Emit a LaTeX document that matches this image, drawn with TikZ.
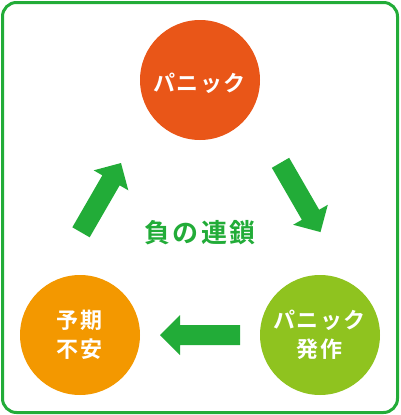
\documentclass[tikz,border=0pt]{standalone}
\usepackage{fontspec}
\newfontfamily\jpc{Noto Sans CJK JP Bold}[LetterSpace=6]
\newfontfamily\jpt{Noto Sans CJK JP Bold}[LetterSpace=9]
\definecolor{agreen}{HTML}{22AC38}
\definecolor{cred}{HTML}{E95618}
\definecolor{corange}{HTML}{F39800}
\definecolor{clime}{HTML}{8FC31F}
\tikzset{
  circ/.style={circle, minimum size=120pt, inner sep=0pt, draw=none},
  ctext/.style={text=white, align=center, inner sep=0pt, font={\jpc\fontsize{22}{29.5}\selectfont}},
  ttext/.style={text=agreen, inner sep=0pt, font={\jpt\fontsize{26}{30}\selectfont}},
  blockarrow/.pic={\fill[agreen] (0,-10) -- (60,-10) -- (60,-20) -- (80,0) -- (60,20) -- (60,10) -- (0,10) -- cycle;}
}
\begin{document}
\begin{tikzpicture}[x=1pt,y=-1pt]
\useasboundingbox (0,0) rectangle (400,415);
\draw[agreen, line width=3pt, rounded corners=14pt] (2.5,2.5) rectangle (397.5,412.5);
\node[circ, fill=cred] (panic) at (200,80) {};
\node[circ, fill=corange] (anx) at (80,335) {};
\node[circ, fill=clime] (attack) at (320,335) {};
\node[ctext] (panict) at ([xshift=-0.5pt,yshift=-3pt]panic.center) {パニック};
\node[ctext] (anxt) at ([xshift=-0.5pt]anx.center) {予期\\不安};
\node[ctext] (attackt) at ([xshift=-0.5pt]attack.center) {パニック\\発作};
\node[ttext] (title) at (200,233) {負の連鎖};
\pic[rotate=60] (up) at (81,232.3) {blockarrow};
\pic[rotate=-60] (down) at (280.5,162.8) {blockarrow};
\pic[rotate=180] (left) at (240,335) {blockarrow};
\end{tikzpicture}
\end{document}
